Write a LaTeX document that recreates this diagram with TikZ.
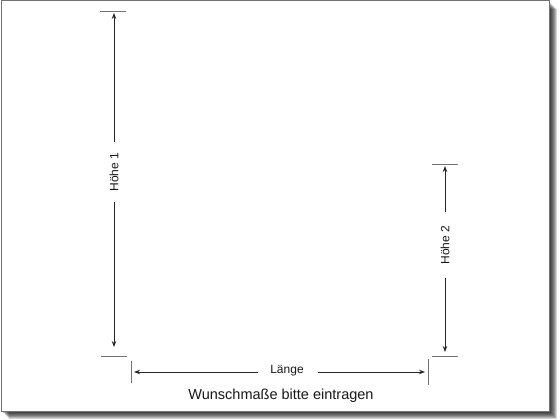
\documentclass[tikz,border=0pt]{standalone}
\usepackage{fontspec}
\setmainfont{Liberation Sans}
\usetikzlibrary{arrows.meta}
\begin{document}
\begin{tikzpicture}[x=1pt,y=-1pt,
  tick/.style={draw=black!55,line width=0.9pt},
  dimline/.style={draw=black!85,line width=1pt},
  dimarrow/.style={dimline,-{Stealth[length=6pt,width=4.5pt]}},
  lbl/.style={font=\fontsize{12}{14}\selectfont,text=black!90,inner sep=0pt},
  title/.style={font=\fontsize{14.5}{17}\selectfont,text=black!90,inner sep=0pt}]
\useasboundingbox (0,0) rectangle (560,420);
% shadow
\foreach \k in {1,...,8}{
  \fill[black,opacity=0.17] (1+\k,1+\k) rectangle (549+\k,411+\k);
}
\filldraw[fill=white,draw=black!55,line width=1pt] (1,1) rectangle (549,411);
% Hoehe 1
\draw[tick] (100,11) -- (126,11);
\draw[tick] (101,356) -- (127,356);
\coordinate (h1t) at (114,13);
\coordinate (h1b) at (114,347);
\node[lbl,rotate=90] (h1) at (114,172) {Höhe 1};
\draw[dimarrow] ([yshift=10pt]h1.east) -- (h1t);
\draw[dimarrow] ([yshift=-10pt]h1.west) -- (h1b);
% Hoehe 2
\draw[tick] (432,164) -- (458,164);
\draw[tick] (432,356) -- (458,356);
\coordinate (h2t) at (445,166);
\coordinate (h2b) at (445,352);
\node[lbl,rotate=90] (h2) at (445,245) {Höhe 2};
\draw[dimarrow] ([yshift=13pt]h2.east) -- (h2t);
\draw[dimarrow] ([yshift=-13pt]h2.west) -- (h2b);
% Laenge
\draw[tick] (131,361) -- (131,383);
\draw[tick] (428,359) -- (428,385);
\coordinate (lt) at (134,372);
\coordinate (lr) at (425,372);
\node[lbl] (l) at (287,371) {Länge};
\draw[dimarrow] ([xshift=-12pt]l.west |- lt) -- (lt);
\draw[dimarrow] ([xshift=14pt]l.east |- lr) -- (lr);
% title
\node[title] (t) at (281,396) {Wunschmaße bitte eintragen};
\end{tikzpicture}
\end{document}
